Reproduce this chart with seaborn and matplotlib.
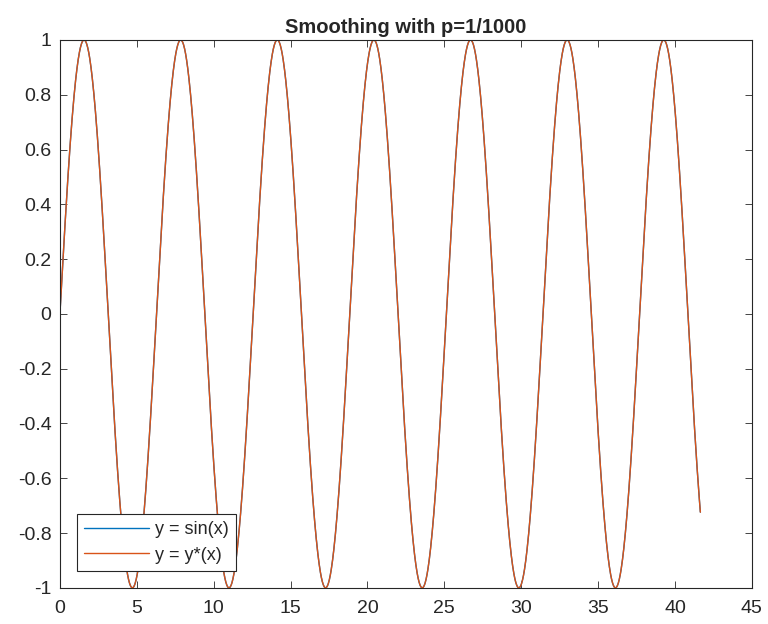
import numpy as np
import pandas as pd
import matplotlib
matplotlib.use("Agg")
import matplotlib.pyplot as plt
import seaborn as sns

# x range of the plotted curve (ends near 41.65, y ~ -0.73)
x_start = 0.0
x_end = 41.65
n_points = 2000
x_ticks = [0, 5, 10, 15, 20, 25, 30, 35, 40, 45]
y_ticks = [-1, -0.8, -0.6, -0.4, -0.2, 0, 0.2, 0.4, 0.6, 0.8, 1]
y_tick_labels = ["-1", "-0.8", "-0.6", "-0.4", "-0.2", "0", "0.2", "0.4", "0.6", "0.8", "1"]

x = np.linspace(x_start, x_end, n_points)
y_sin = np.sin(x)
y_smooth = np.sin(x)  # smoothed curve is visually identical to sin(x)

df = pd.DataFrame({"x": np.concatenate([x, x]),
                   "y": np.concatenate([y_sin, y_smooth]),
                   "series": ["y = sin(x)"] * n_points + ["y = y*(x)"] * n_points})

sns.set_style("white")
plt.rcParams['font.family'] = ['Liberation Sans', 'DejaVu Sans']

fig, ax = plt.subplots(figsize=(7.68, 6.24), dpi=100)
fig.subplots_adjust(left=0.078, right=0.979, top=0.936, bottom=0.058)

sns.lineplot(data=df, x="x", y="y", hue="series", sort=False, estimator=None,
             palette=["#0072BD", "#D95319"], linewidth=1.0, ax=ax)

ax.set_xlim(0, 45)
ax.set_ylim(-1, 1)
ax.set_xticks(x_ticks)
ax.set_yticks(y_ticks)
ax.set_yticklabels(y_tick_labels)
ax.set_xlabel("")
ax.set_ylabel("")
ax.set_title("Smoothing with p=1/1000", fontsize=14.5, fontweight="bold", pad=5)
ax.tick_params(direction="in", length=5, width=0.6, labelsize=14, colors="#262626",
               top=True, right=True, bottom=True, left=True)
ax.tick_params(axis="x", pad=9)
ax.tick_params(axis="y", pad=6)
for s in ax.spines.values():
    s.set_color("#262626")
    s.set_linewidth(0.8)

leg = ax.legend(loc="lower left", bbox_to_anchor=(0.025, 0.031), fontsize=13,
                frameon=True, fancybox=False, handlelength=3.6, borderpad=0.4,
                labelspacing=0.45, handletextpad=0.3, borderaxespad=0)
leg.get_frame().set_edgecolor("#262626")
leg.get_frame().set_linewidth(0.8)
leg.get_frame().set_alpha(1)

fig.savefig("out.png", dpi=100)
